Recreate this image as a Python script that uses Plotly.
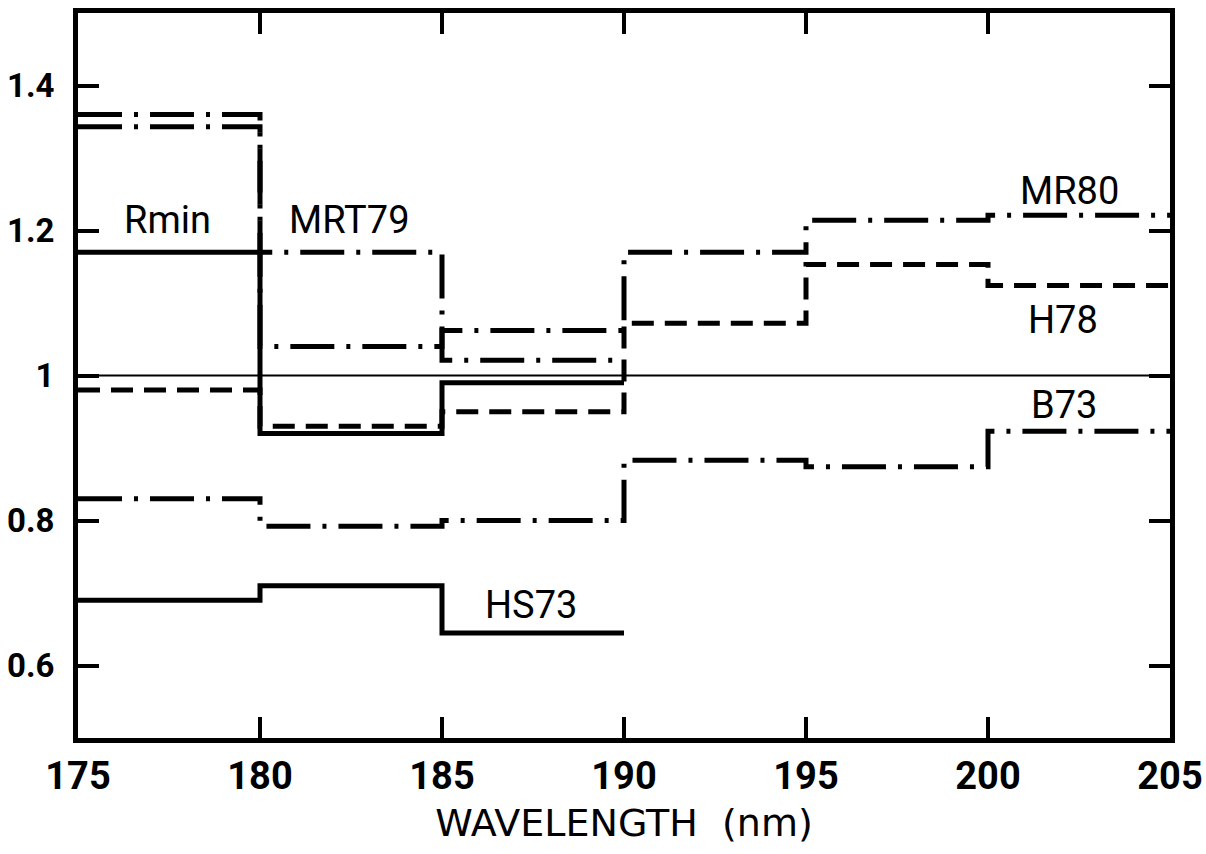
import plotly.graph_objects as go

# ---- data ----
edges = [175, 180, 185, 190, 195, 200, 205]
rmin = [1.17, 0.92, 0.99]
hs73 = [0.69, 0.71, 0.645]
b73 = [0.83, 0.792, 0.80, 0.883, 0.874, 0.923]
h78 = [0.98, 0.93, 0.95, 1.072, 1.153, 1.124]
mrt79 = [1.36, 1.17, 1.021]
mr80 = [1.343, 1.04, 1.062, 1.17, 1.214, 1.221]
ref_level = 1.0

x_ticks = [175, 180, 185, 190, 195, 200, 205]
y_ticks = [0.6, 0.8, 1.0, 1.2, 1.4]
y_tick_labels = ["0.6", "0.8", "1", "1.2", "1.4"]

label_x = [177.45, 182.45, 202.25, 202.06, 202.09, 187.45]
label_y = [1.214, 1.214, 1.255, 1.077, 0.959, 0.684]
label_text = ["Rmin", "MRT79", "MR80", "H78", "B73", "HS73"]

DASHDOT = "44px,12px,4px,12px"
DASH = "22px,11px"


def step(vals):
    xs = edges[: len(vals) + 1]
    ys = list(vals) + [vals[-1]]
    return xs, ys


fig = go.Figure()

fig.add_trace(go.Scatter(x=[edges[0], edges[-1]], y=[ref_level, ref_level], mode="lines",
                         line=dict(color="black", width=2), hoverinfo="skip"))

series = [
    (hs73, "solid"),
    (rmin, "solid"),
    (b73, DASHDOT),
    (h78, DASH),
    (mrt79, DASHDOT),
    (mr80, DASHDOT),
]
for vals, dash in series:
    xs, ys = step(vals)
    fig.add_trace(go.Scatter(x=xs, y=ys, mode="lines", line_shape="hv",
                             line=dict(color="black", width=5, dash=dash)))

for t, lx, ly in zip(label_text, label_x, label_y):
    fig.add_annotation(x=lx, y=ly, text=t, showarrow=False,
                       font=dict(family="Roboto", size=38, color="black"))

axis_common = dict(showline=True, linewidth=5, linecolor="black", mirror="ticks",
                   ticks="inside", ticklen=21, tickwidth=4, tickcolor="black",
                   showgrid=False, zeroline=False, automargin=False)

fig.update_xaxes(range=[175, 205], tickmode="array", tickvals=x_ticks,
                 ticktext=[str(v) for v in x_ticks],
                 tickfont=dict(family="Roboto", size=38, color="black", weight="bold"),
                 ticklabelstandoff=0,
                 title=dict(text="WAVELENGTH  (nm)", standoff=14,
                            font=dict(family="DejaVu Sans", size=38, color="black")),
                 **axis_common)
fig.update_yaxes(range=[0.5, 1.5], tickmode="array", tickvals=y_ticks,
                 ticktext=y_tick_labels,
                 tickfont=dict(family="Roboto", size=33, color="black", weight="bold"),
                 ticklabelstandoff=12,
                 **axis_common)

fig.update_layout(width=1206, height=854, showlegend=False,
                  margin=dict(l=78, r=36, t=13, b=116),
                  plot_bgcolor="white", paper_bgcolor="white")

fig.write_html("out.html", config={"displayModeBar": False},
               post_script="document.body.style.margin='0';")
